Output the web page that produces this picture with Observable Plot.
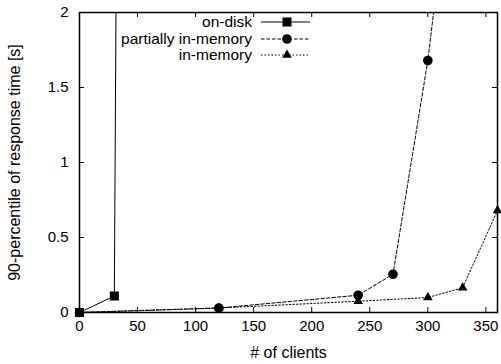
<!DOCTYPE html>
<html>
<head>
<meta charset="utf-8">
<script src="https://cdn.jsdelivr.net/npm/d3@7"></script>
<script src="https://cdn.jsdelivr.net/npm/@observablehq/plot@0.6"></script>
<style>
  html, body { margin: 0; padding: 0; background: #fff; }
</style>
</head>
<body>
<div id="chart"></div>
<script>
// ---- data ----
const seriesNames = ["on-disk", "partially in-memory", "in-memory"];
const onDiskX = [0, 30, 60];
const onDiskY = [0, 0.11, 40];
const partialX = [0, 120, 240, 270, 300, 330];
const partialY = [0, 0.03, 0.115, 0.255, 1.68, 3.6];
const inMemX = [0, 120, 240, 300, 330, 360];
const inMemY = [0, 0.03, 0.075, 0.1, 0.165, 0.68];
const xTicks = [0, 50, 100, 150, 200, 250, 300, 350];
const yTicks = [0, 0.5, 1, 1.5, 2];
const yTickLabels = ["0", "0.5", "1", "1.5", "2"];
const xLabel = "# of clients";
const yLabel = "90-percentile of response time [s]";

const styles = [
  {symbol: "square", r: 5.1, dash: null},
  {symbol: "circle", r: 4.8, dash: "3.5,2"},
  {symbol: "triangle", r: 3.6, dash: "1.5,2"}
];

const toRows = (xs, ys, name) => xs.map((x, i) => ({x, y: ys[i], series: name}));
const data = [
  toRows(onDiskX, onDiskY, seriesNames[0]),
  toRows(partialX, partialY, seriesNames[1]),
  toRows(inMemX, inMemY, seriesNames[2])
];

const W = 501, H = 364;
const mL = 79, mR = 4, mT = 12, mB = 52;
const frameH = H - mT - mB, frameW = W - mL - mR;
const tickLen = 5;
const FONT = "'Liberation Sans', Arial, Helvetica, sans-serif";

const marks = [];
data.forEach((rows, i) => {
  marks.push(Plot.line(rows, {x: "x", y: "y", stroke: "black", strokeWidth: 1,
    strokeDasharray: styles[i].dash, clip: true}));
});
data.forEach((rows, i) => {
  marks.push(Plot.dot(rows.filter(d => d.y <= 2), {x: "x", y: "y", symbol: () => styles[i].symbol,
    r: styles[i].r, fill: "black", stroke: "none"}));
});
// inward ticks on all four sides (gnuplot style)
marks.push(Plot.ruleX(xTicks, {stroke: "black", strokeWidth: 1, insetTop: frameH - tickLen}));
marks.push(Plot.ruleX(xTicks, {stroke: "black", strokeWidth: 1, insetBottom: frameH - tickLen}));
marks.push(Plot.ruleY(yTicks, {stroke: "black", strokeWidth: 1, insetRight: frameW - tickLen}));
marks.push(Plot.ruleY(yTicks, {stroke: "black", strokeWidth: 1, insetLeft: frameW - tickLen}));
marks.push(Plot.axisX(xTicks, {anchor: "bottom", tickSize: 0, tickPadding: 8, label: null, fill: "black"}));
marks.push(Plot.axisY(yTicks, {anchor: "left", tickSize: 0, tickPadding: 11, label: null, fill: "black",
  tickFormat: (d) => yTickLabels[yTicks.indexOf(d)]}));
marks.push(Plot.frame({stroke: "black", strokeWidth: 1.5}));
marks.push(Plot.text([xLabel], {frameAnchor: "bottom", dy: 40, lineAnchor: "middle", textAnchor: "middle",
  fontSize: 16, text: d => d, fill: "black"}));
marks.push(Plot.text([yLabel], {frameAnchor: "left", dx: -65, rotate: -90, lineAnchor: "middle", textAnchor: "middle",
  fontSize: 16, text: d => d, fill: "black"}));

const chart = Plot.plot({
  width: W, height: H,
  marginLeft: mL, marginRight: mR, marginTop: mT, marginBottom: mB,
  x: {domain: [0, 360], axis: null},
  y: {domain: [0, 2], axis: null},
  style: {fontFamily: FONT, fontSize: "15px", color: "black", background: "white"},
  marks
});
document.getElementById("chart").appendChild(chart);

// legend (inside the plot, top right)
const svg = d3.select(chart.tagName.toLowerCase() === "svg" ? chart : chart.querySelector("svg"));
const lg = svg.append("g").attr("font-family", FONT).attr("font-size", 15.5);
const rowY = [22, 39, 55];
seriesNames.forEach((name, i) => {
  const y = rowY[i];
  lg.append("text").attr("x", 252).attr("y", y).attr("dy", "0.35em").attr("text-anchor", "end")
    .attr("fill", "black").text(name);
  lg.append("line").attr("x1", 261).attr("x2", 310).attr("y1", y).attr("y2", y)
    .attr("stroke", "black").attr("stroke-width", 1)
    .attr("stroke-dasharray", styles[i].dash);
  const symType = {square: d3.symbolSquare, circle: d3.symbolCircle, triangle: d3.symbolTriangle}[styles[i].symbol];
  lg.append("path").attr("transform", `translate(287,${y})`)
    .attr("d", d3.symbol(symType, Math.PI * styles[i].r * styles[i].r)())
    .attr("fill", "black");
});
</script>
</body>
</html>
